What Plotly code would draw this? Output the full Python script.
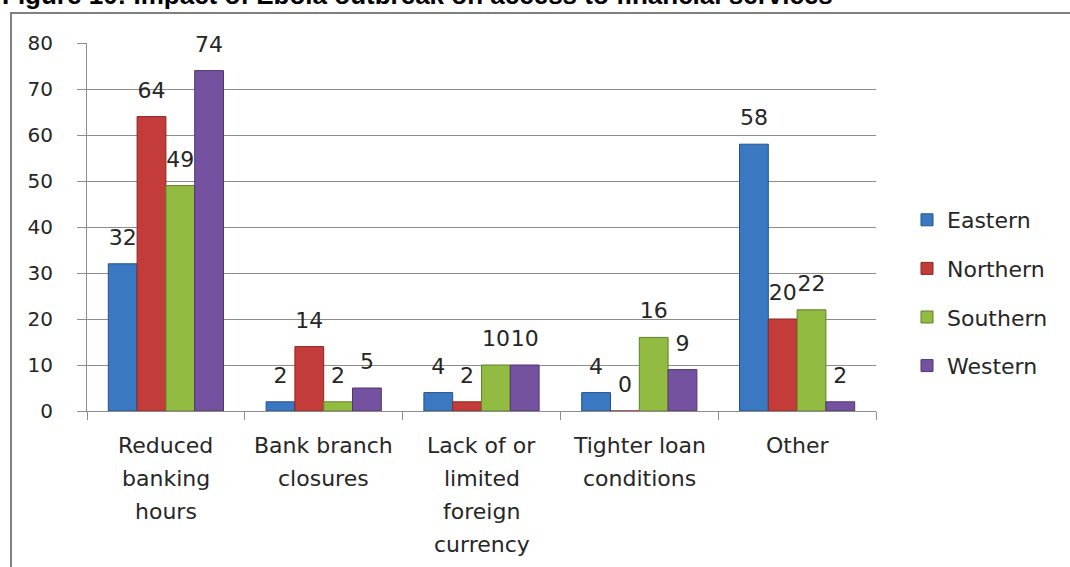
import plotly.graph_objects as go

# Survey responses by region (counts)
categories = [
    "Reduced<br>banking<br>hours",
    "Bank branch<br>closures",
    "Lack of or<br>limited<br>foreign<br>currency",
    "Tighter loan<br>conditions",
    "Other",
]
eastern = [32, 2, 4, 4, 58]
northern = [64, 14, 2, 0, 20]
southern = [49, 2, 10, 16, 22]
western = [74, 5, 10, 9, 2]
y_ticks = [0, 10, 20, 30, 40, 50, 60, 70, 80]

series = [
    ("Eastern", eastern, "#3a78c2", "#25528a"),
    ("Northern", northern, "#c43c3a", "#8a2624"),
    ("Southern", southern, "#92bb42", "#637f2a"),
    ("Western", western, "#7552a0", "#4f3670"),
]

FONT = "DejaVu Sans, sans-serif"
GRID = "#8c8c8c"
TEXT = "#262626"

W, H = 1070, 567
ML, MR, MT, MB = 87, 194, 43, 156
PW, PH = W - ML - MR, H - MT - MB

fig = go.Figure()

for i, (name, vals, color, edge) in enumerate(series):
    fig.add_trace(go.Bar(
        x=categories, y=vals, name=name,
        offsetgroup=str(i), legendgroup=name,
        marker=dict(color=color, line=dict(color=edge, width=1)),
    ))

# value labels, grouped the same way as the bars
for i, (name, vals, color, edge) in enumerate(series):
    fig.add_trace(go.Scatter(
        x=categories, y=vals, mode="markers+text",
        text=[str(v) for v in vals], textposition="top center",
        textfont=dict(family=FONT, size=22, color=TEXT),
        marker=dict(size=20, color="rgba(0,0,0,0)"),
        offsetgroup=str(i), showlegend=False, hoverinfo="skip",
        cliponaxis=False,
    ))

# category labels under the axis, one line each for wider line spacing
LINE_STEP = 33
for cat in categories:
    for k, line in enumerate(cat.split("<br>")):
        fig.add_annotation(
            text=line, x=cat, xref="x", y=0, yref="y",
            xanchor="center", yanchor="middle", yshift=-(34 + LINE_STEP * k),
            showarrow=False, font=dict(family=FONT, size=22, color=TEXT),
        )

# outer chart frame
fig.add_shape(type="rect", xref="paper", yref="paper",
              x0=(11 - ML) / PW, x1=1.5, y0=-1.0, y1=(H - MB - 13) / PH,
              line=dict(color="#808080", width=2), fillcolor="rgba(0,0,0,0)",
              layer="below")

fig.add_annotation(
    text="<b>Figure 10: Impact of Ebola outbreak on access to financial services</b>",
    xref="paper", yref="paper", x=-ML / PW, y=(H - MB - 12) / PH,
    xanchor="left", yanchor="bottom", showarrow=False,
    font=dict(family="Liberation Sans, Arial, sans-serif", size=26, color="#000000"),
)

fig.update_layout(
    width=W, height=H,
    margin=dict(l=ML, r=MR, t=MT, b=MB),
    paper_bgcolor="white", plot_bgcolor="white",
    barmode="group", bargap=0.27, bargroupgap=0,
    scattermode="group", scattergap=0.27,
    font=dict(family=FONT, size=20, color=TEXT),
    showlegend=True,
    legend=dict(x=(907 - ML) / PW, y=(H - MB - 293) / PH, xanchor="left", yanchor="middle",
                font=dict(family=FONT, size=22, color=TEXT), tracegroupgap=17,
                bgcolor="rgba(0,0,0,0)"),
    xaxis=dict(type="category", showline=True, linecolor=GRID, linewidth=1,
               ticks="outside", tickson="boundaries", ticklen=8, tickcolor=GRID,
               showticklabels=False, showgrid=False),
    yaxis=dict(range=[0, 80], tickvals=y_ticks, showline=True, linecolor=GRID, linewidth=1,
               ticks="outside", ticklen=9, tickcolor=GRID, showgrid=True, gridcolor=GRID,
               gridwidth=1, zeroline=False,
               tickfont=dict(family=FONT, size=20, color=TEXT), ticklabelstandoff=20),
)

fig.write_html("out.html")
